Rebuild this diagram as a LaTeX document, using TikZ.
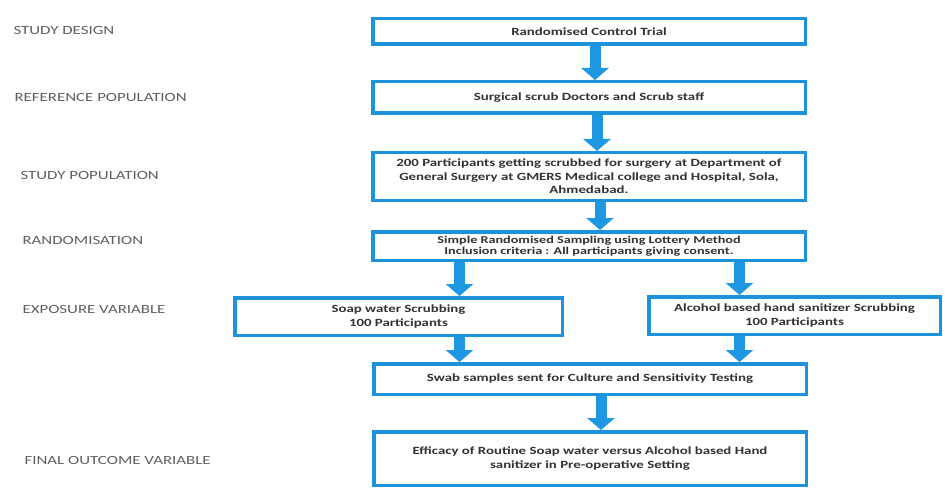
\documentclass[tikz,border=0pt]{standalone}
\usepackage{fontspec}
\setmainfont{Carlito}[FakeStretch=1.35]
\usepackage{xcolor}
\usetikzlibrary{arrows.meta, positioning}

\definecolor{boxblue}{RGB}{28,146,218}
\definecolor{flowblue}{RGB}{30,152,226}
\definecolor{labelgray}{RGB}{95,95,95}
\definecolor{textgray}{RGB}{50,50,50}

\begin{document}
\begin{tikzpicture}[
    x=1pt, y=1pt,
    stage/.style={rectangle, draw=boxblue, line width=3.5pt, fill=white, minimum width=432.5pt, align=center, text=textgray, font=\fontsize{11}{13.5}\selectfont\bfseries},
    rowlabel/.style={anchor=west, text=labelgray, font=\fontsize{12.5}{14}\selectfont},
    flow/.style={-{Triangle[width=27pt, length=12pt]}, line width=11pt, draw=flowblue}
]
\useasboundingbox (0,0) rectangle (945,491);

% row labels
\node[rowlabel] (lbldesign) at (10,461) {STUDY DESIGN};
\node[rowlabel] (lblref) at (11,394) {REFERENCE POPULATION};
\node[rowlabel] (lblstudy) at (17,316) {STUDY POPULATION};
\node[rowlabel] (lblrand) at (19,251) {RANDOMISATION};
\node[rowlabel] (lblexpo) at (19,182) {EXPOSURE VARIABLE};
\node[rowlabel] (lblfinal) at (21,31) {FINAL OUTCOME VARIABLE};

% main chain
\node[stage, minimum height=25.5pt] (trial) at (589,459.5) {Randomised Control Trial};
\node[stage, minimum height=31.5pt, below=34pt of trial] (refpop) {Surgical scrub Doctors and Scrub staff};
\node[stage, minimum height=47.5pt, inner ysep=2pt, below=36pt of refpop] (studypop) {200 Participants getting scrubbed for surgery at Department of\\General Surgery at GMERS Medical college and Hospital, Sola,\\Ahmedabad.};
\node[stage, minimum height=28.5pt, inner ysep=1pt, font=\fontsize{10.5}{11.5}\selectfont\bfseries, below=28pt of studypop] (rand) {Simple Randomised Sampling using Lottery Method\\Inclusion criteria : All participants giving consent.};

% exposure groups
\node[stage, minimum width=327.5pt, minimum height=37.5pt] (soap) at (398.5,174.5) {Soap water Scrubbing\\100 Participants};
\node[stage, minimum width=291.5pt, minimum height=37.5pt] (alcohol) at (794.5,175.5) {Alcohol based hand sanitizer Scrubbing\\100 Participants};

% outcome
\node[stage, minimum height=30.5pt] (swab) at (590,112) {Swab samples sent for Culture and Sensitivity Testing};
\node[stage, minimum height=53.5pt, below=34pt of swab] (final) {Efficacy of Routine Soap water versus Alcohol based Hand\\sanitizer in Pre-operative Setting};

\draw[flow] ([xshift=6pt]trial.south) -- ([xshift=6pt]refpop.north);
\draw[flow] ([xshift=8pt]refpop.south) -- ([xshift=8pt]studypop.north);
\draw[flow] ([xshift=11pt]studypop.south) -- ([xshift=11pt]rand.north);
\draw[flow] ([xshift=61pt]soap.north |- rand.south) -- ([xshift=61pt]soap.north);
\draw[flow] ([xshift=-55pt]alcohol.north |- rand.south) -- ([xshift=-55pt]alcohol.north);
\draw[flow] ([xshift=61pt]soap.south) -- ([xshift=61pt]soap.south |- swab.north);
\draw[flow] ([xshift=-55pt]alcohol.south) -- ([xshift=-55pt]alcohol.south |- swab.north);
\draw[flow] ([xshift=11pt]swab.south) -- ([xshift=11pt]final.north);
\end{tikzpicture}
\end{document}
